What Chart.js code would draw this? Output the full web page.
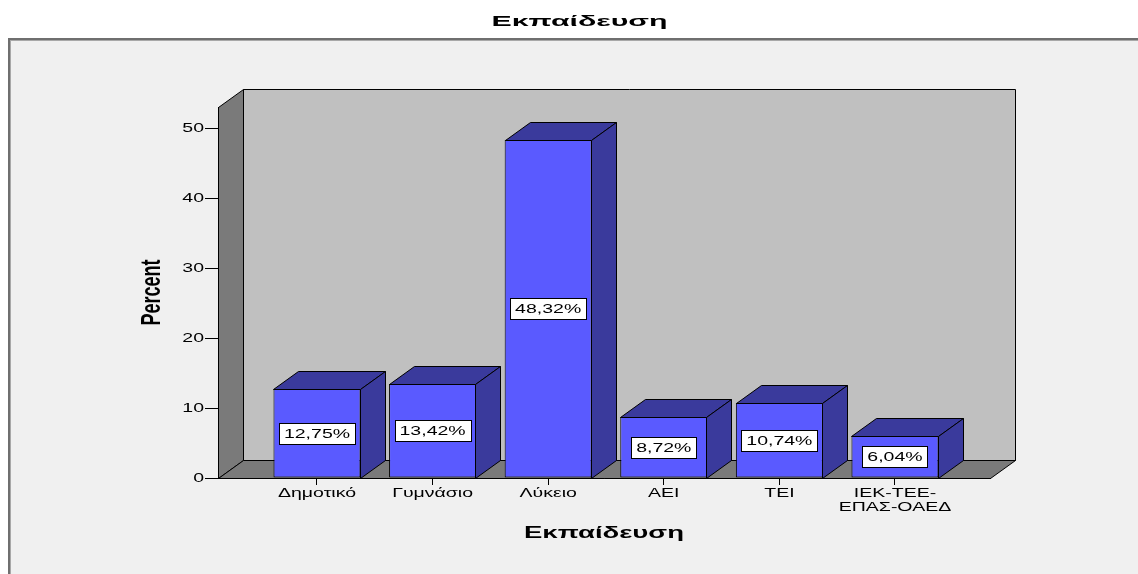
<!DOCTYPE html>
<html>
<head>
<meta charset="utf-8">
<script src="https://cdn.jsdelivr.net/npm/chart.js@4/dist/chart.umd.min.js"></script>
<style>
  html, body { margin: 0; padding: 0; background: #ffffff; }
  #wrap { width: 1138px; height: 574px; }
</style>
</head>
<body>
<div id="wrap"><canvas id="c" width="1138" height="574"></canvas></div>
<script>
// ---- data ----
const categories = ['Δημοτικό', 'Γυμνάσιο', 'Λύκειο', 'ΑΕΙ', 'ΤΕΙ', 'ΙΕΚ-ΤΕΕ-ΕΠΑΣ-ΟΑΕΔ'];
const percents = [12.75, 13.42, 48.32, 8.72, 10.74, 6.04];
const yTicks = [0, 10, 20, 30, 40, 50];
const chartTitle = 'Εκπαίδευση';
const xTitle = 'Εκπαίδευση';
const yTitle = 'Percent';

// ---- style constants ----
const FONT = "'Liberation Sans', Arial, sans-serif";
const DEPTH = { dx: 25, dy: -18 };
const FRONT = '#5a5aff', SIDE = '#3a3a9c', WALL = '#c0c0c0', SIDEWALL = '#7a7a7a';
// horizontal text stretch per font size (the reference renders wide glyphs)
const TEXT_STRETCH = { '13': 1.5, '15': 2.02, '16': 1.72, '18': 1.55 };

const canvas = document.getElementById('c');
const ctx = canvas.getContext('2d');
const nativeFill = CanvasRenderingContext2D.prototype.fillText;
ctx.fillText = function (text, x, y, maxWidth) {
  const m = /(\d+(?:\.\d+)?)px/.exec(this.font);
  const s = m ? (TEXT_STRETCH[m[1]] || 1) : 1;
  const args = maxWidth === undefined ? [text, x, y] : [text, x, y, maxWidth];
  if (s === 1) return nativeFill.apply(this, args);
  const t = this.getTransform();
  const p = t.transformPoint(new DOMPoint(x, y));
  this.save();
  this.setTransform(new DOMMatrix().translateSelf(p.x, p.y).scaleSelf(s, 1).translateSelf(-p.x, -p.y).multiplySelf(t));
  nativeFill.apply(this, args);
  this.restore();
};

function wrapLabel(label) {
  if (!label || label.length <= 10) return label;
  const mid = label.length / 2;
  let best = -1;
  for (let i = 0; i < label.length; i++) {
    if (label[i] === '-' && (best < 0 || Math.abs(i - mid) < Math.abs(best - mid))) best = i;
  }
  return best < 0 ? label : [label.slice(0, best + 1), label.slice(best + 1)];
}

function poly(c, pts, fill) {
  c.beginPath();
  pts.forEach(([x, y], i) => (i ? c.lineTo(x, y) : c.moveTo(x, y)));
  c.closePath();
  c.fillStyle = fill;
  c.fill();
  c.stroke();
}
const px = v => Math.round(v) + 0.5;

const framePlugin = {
  id: 'frameAndWalls',
  beforeDraw(chart) {
    const c = chart.ctx, W = chart.width, H = chart.height;
    c.save();
    c.fillStyle = '#ffffff'; c.fillRect(0, 0, W, H);
    c.fillStyle = '#f0f0f0'; c.fillRect(10, 40, W - 10, H - 40);
    c.fillStyle = '#6f6f6f'; c.fillRect(8, 38, W - 8, 2); c.fillRect(8, 38, 2, H - 38);
    c.fillStyle = '#a8a8a8'; c.fillRect(10, 40, W - 10, 1); c.fillRect(10, 40, 1, H - 40);
    const { left, right, top, bottom } = chart.chartArea;
    const { dx, dy } = DEPTH;
    const L = px(left), R = px(right), T = px(top), B = px(bottom);
    c.strokeStyle = '#000'; c.lineWidth = 1; c.lineJoin = 'miter';
    poly(c, [[L + dx, T + dy], [R + dx, T + dy], [R + dx, B + dy], [L + dx, B + dy]], WALL);
    poly(c, [[L, T], [L + dx, T + dy], [L + dx, B + dy], [L, B]], SIDEWALL);
    poly(c, [[L, B], [L + dx, B + dy], [R + dx, B + dy], [R, B]], SIDEWALL);
    c.restore();
  }
};

const barPlugin = {
  id: 'bars3d',
  afterDatasetsDraw(chart) {
    const c = chart.ctx;
    const { dx, dy } = DEPTH;
    const meta = chart.getDatasetMeta(0);
    c.save();
    c.strokeStyle = '#000'; c.lineWidth = 1;
    meta.data.forEach((bar) => {
      const { x, y, base, width } = bar.getProps(['x', 'y', 'base', 'width'], true);
      const x1 = px(x - width / 2), x2 = px(x + width / 2) - 1, t = px(y), b = px(base);
      poly(c, [[x1, t], [x1 + dx, t + dy], [x2 + dx, t + dy], [x2, t]], SIDE);
      poly(c, [[x2, t], [x2 + dx, t + dy], [x2 + dx, b + dy], [x2, b]], SIDE);
    });
    // value labels
    c.font = '13px ' + FONT;
    c.textAlign = 'center';
    c.textBaseline = 'middle';
    meta.data.forEach((bar, i) => {
      const { x, y, base } = bar.getProps(['x', 'y', 'base'], true);
      const text = percents[i].toFixed(2).replace('.', ',') + '%';
      const w = Math.round(c.measureText(text).width * TEXT_STRETCH['13'] + 10);
      const h = 21;
      const cy = (y + base) / 2;
      const bx = Math.round(x - w / 2) + 0.5, by = Math.round(cy - h / 2) + 0.5;
      c.fillStyle = '#ffffff';
      c.fillRect(bx, by, w, h);
      c.strokeStyle = '#000';
      c.strokeRect(bx, by, w, h);
      c.fillStyle = '#000';
      c.fillText(text, x, cy + 1);
    });
    c.restore();
  }
};

Chart.defaults.font.family = FONT;
Chart.defaults.color = '#000';

const points = percents.map((v, i) => ({ x: i, y: v }));

new Chart(ctx, {
  type: 'bar',
  data: {
    datasets: [{
      data: points,
      backgroundColor: FRONT,
      borderColor: '#000',
      borderWidth: 1,
      borderSkipped: false,
      barPercentage: 0.753,
      categoryPercentage: 1
    }]
  },
  options: {
    responsive: false,
    animation: false,
    devicePixelRatio: 1,
    layout: { padding: { left: 21, right: 0, top: 0, bottom: 0 } },
    plugins: {
      legend: { display: false },
      tooltip: { enabled: false },
      title: {
        display: true, text: chartTitle, color: '#000',
        font: { size: 15, weight: 'bold' },
        padding: { top: 13, bottom: 76 }
      }
    },
    scales: {
      x: {
        type: 'linear', min: -0.8564, max: 5.822, offset: false,
        afterBuildTicks: s => { s.ticks = categories.map((_, i) => ({ value: i })); },
        grid: { display: true, drawOnChartArea: false, drawTicks: true, tickLength: 7, color: '#000', offset: false },
        border: { display: true, color: '#000', width: 1 },
        ticks: {
          autoSkip: false, maxRotation: 0, minRotation: 0, padding: 1, color: '#000',
          font: { size: 13, lineHeight: 1.1 },
          callback: v => wrapLabel(categories[v])
        },
        title: {
          display: true, text: xTitle, color: '#000',
          font: { size: 16, weight: 'bold' },
          padding: { top: 0, bottom: 30.4 }
        },
        afterFit: s => { s.height = 96; }
      },
      y: {
        type: 'linear', min: 0, max: 53,
        afterBuildTicks: s => { s.ticks = yTicks.map(v => ({ value: v })); },
        grid: { display: true, drawOnChartArea: false, drawTicks: true, tickLength: 13, color: '#000' },
        border: { display: true, color: '#000', width: 1 },
        ticks: { padding: 1, color: '#000', font: { size: 13 } },
        title: {
          display: true, text: yTitle, color: '#000',
          font: { size: 18, weight: 'bold' },
          padding: { top: 120.7, bottom: 0 }
        },
        afterFit: s => { s.width = 197; }
      },
      y2: {
        type: 'linear', position: 'right',
        grid: { display: false }, border: { display: false }, ticks: { display: false },
        afterFit: s => { s.width = 148; }
      }
    }
  },
  plugins: [framePlugin, barPlugin]
});
</script>
</body>
</html>
